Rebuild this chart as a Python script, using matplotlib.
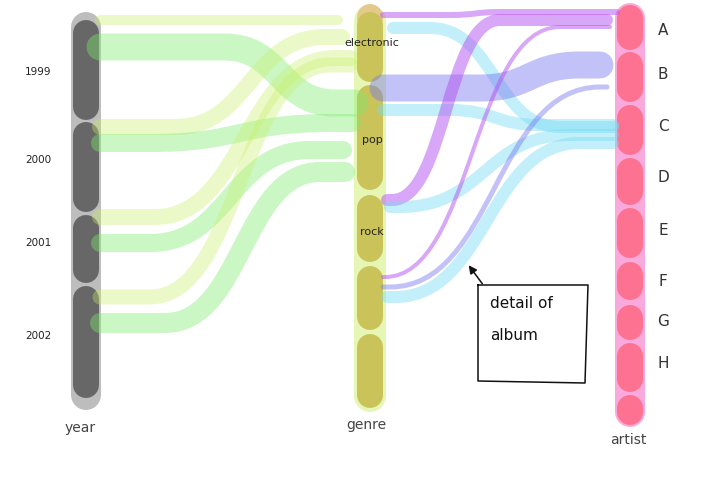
import matplotlib.pyplot as plt
from matplotlib.path import Path
from matplotlib.patches import PathPatch, FancyArrowPatch

# axis positions (x) and category spans (y, top to bottom)
axis_names = ["year", "genre", "artist"]
axis_x = [86, 370, 630]

year_labels = ["1999", "2000", "2001", "2002"]
year_spans = [(20, 120), (122, 212), (215, 283), (286, 398)]
year_label_y = [72, 160, 243, 336]

genre_labels = ["electronic", "pop", "rock", "", ""]
genre_spans = [(12, 82), (85, 190), (195, 262), (266, 330), (334, 408)]
genre_label_y = [43, 140, 232, 0, 0]

artist_labels = ["A", "B", "C", "D", "E", "F", "G", "H", ""]
artist_spans = [(5, 50), (52, 102), (105, 155), (158, 205), (208, 258),
                (262, 300), (305, 340), (343, 392), (395, 425)]
artist_label_y = [30, 74, 126, 178, 230, 282, 322, 363, 0]

# flows year -> genre: (y_from, y_to, width, colour, bend_start, bend_end, x_end)
year_flows = [
    (20, 20, 10, "yellow", 150, 200, 338),
    (47, 103, 27, "green", 225, 335, 355),
    (127, 37, 16, "yellow", 175, 325, 342),
    (143, 123, 18, "green", 150, 330, 352),
    (217, 58, 16, "yellow", 155, 335, 350),
    (243, 150, 18, "green", 150, 310, 343),
    (297, 65, 15, "yellow", 150, 330, 350),
    (323, 172, 20, "green", 165, 320, 345),
]

# flows genre -> artist: (y_from, y_to, width, colour, bend_start, bend_end, x_start, x_end)
genre_flows = [
    (15, 12, 6, "purple", 450, 500, 383, 617),
    (28, 127, 12, "cyan", 430, 560, 393, 613),
    (88, 65, 27, "blue", 480, 580, 383, 600),
    (110, 125, 12, "cyan", 450, 540, 383, 613),
    (200, 20, 12, "purple", 392, 500, 387, 607),
    (207, 135, 12, "cyan", 400, 570, 390, 613),
    (277, 27, 4, "purple", 385, 560, 383, 610),
    (287, 87, 5, "blue", 390, 600, 383, 607),
    (297, 143, 12, "cyan", 395, 580, 387, 613),
]

colours = {
    "yellow": ("#c8f064", 0.35),
    "green": ("#7deb6e", 0.40),
    "purple": ("#b450f0", 0.50),
    "blue": ("#7878f0", 0.45),
    "cyan": ("#78dcf5", 0.45),
}

PX = 72 / 100  # pixel -> points at dpi 100


def bar(ax, x, top, bottom, width, colour):
    r = width / 2
    ax.plot([x, x], [top + r, bottom - r], color=colour, lw=width * PX,
            solid_capstyle="round", zorder=1)


def flow(ax, x0, y0, x1, y1, xa, xb, width, key):
    c, a = colours[key]
    xm = (xa + xb) / 2
    verts = [(x0, y0), (xa, y0), (xm, y0), (xm, y1), (xb, y1), (x1, y1)]
    codes = [Path.MOVETO, Path.LINETO, Path.CURVE4, Path.CURVE4, Path.CURVE4, Path.LINETO]
    patch = PathPatch(Path(verts, codes), fill=False, edgecolor=c, alpha=a,
                      lw=width * PX, capstyle="round", joinstyle="round", zorder=2)
    ax.add_patch(patch)


fig = plt.figure(figsize=(7.08, 4.79), dpi=100)
ax = fig.add_axes([0, 0, 1, 1])
ax.set_xlim(0, 708)
ax.set_ylim(479, 0)
ax.axis("off")

# year axis
bar(ax, axis_x[0], 12, 410, 30, "#bdbdbd")
for top, bottom in year_spans:
    bar(ax, axis_x[0], top, bottom, 26, "#676767")
for lab, y in zip(year_labels, year_label_y):
    ax.text(38, y, lab, fontsize=7.5, ha="center", va="center", color="#222")

# genre axis
bar(ax, axis_x[1], 5, 412, 32, "#e6f7b5")
bar(ax, axis_x[1], 5, 30, 26, "#e3c98a")
for top, bottom in genre_spans:
    bar(ax, axis_x[1], top, bottom, 26, "#c9c35a")

# artist axis
bar(ax, axis_x[2], 3, 427, 30, "#f9a9dc")
for top, bottom in artist_spans:
    bar(ax, axis_x[2], top, bottom, 26, "#fc7290")
for lab, y in zip(artist_labels, artist_label_y):
    if lab:
        ax.text(663, y, lab, fontsize=11, ha="center", va="center", color="#333")

# flows
for y0, y1, w, key, xa, xb, x1 in year_flows:
    flow(ax, axis_x[0] + 14, y0, x1, y1, xa, xb, w, key)
for y0, y1, w, key, xa, xb, x0, x1 in genre_flows:
    flow(ax, x0, y0, x1, y1, xa, xb, w, key)

for lab, y in zip(genre_labels, genre_label_y):
    if lab:
        ax.text(axis_x[1] + 2, y, lab, fontsize=8, ha="center", va="center",
                color="#222", zorder=5)

# axis names
ax.text(80, 428, "year", fontsize=10, ha="center", va="center", color="#444")
ax.text(366, 425, "genre", fontsize=10, ha="center", va="center", color="#444")
ax.text(628, 440, "artist", fontsize=10, ha="center", va="center", color="#444")

# annotation box
ax.plot([478, 588, 585, 478, 478], [285, 285, 383, 381, 285], color="#111", lw=1.1, zorder=4)
ax.add_patch(FancyArrowPatch((484, 286), (467, 263), arrowstyle="-|>", mutation_scale=12,
                             color="#111", lw=1.1, zorder=4))
ax.text(490, 303, "detail of", fontsize=11, va="center", ha="left", color="#111")
ax.text(490, 336, "album", fontsize=11, va="center", ha="left", color="#111")

fig.savefig("out.png", dpi=100)
